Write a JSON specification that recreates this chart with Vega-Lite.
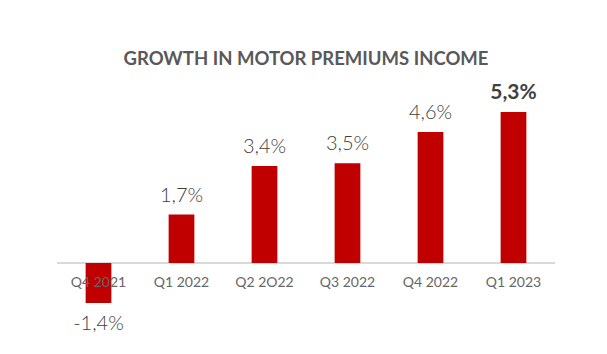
{
  "$schema": "https://vega.github.io/schema/vega-lite/v6.json",
  "width": 498,
  "height": 274,
  "autosize": {"type": "none"},
  "padding": {"left": 57, "right": 52, "top": 80, "bottom": 0},
  "background": "white",
  "title": {
    "text": "GROWTH IN MOTOR PREMIUMS INCOME",
    "font": "Lato",
    "fontSize": 18.5,
    "fontWeight": "bold",
    "color": "#595959",
    "anchor": "middle",
    "baseline": "alphabetic",
    "offset": -3
  },
  "config": {"view": {"stroke": null}},
  "data": {
    "values": [
      {"quarter": "Q4 2021", "value": -1.4, "label": "-1,4%"},
      {"quarter": "Q1 2022", "value": 1.7, "label": "1,7%"},
      {"quarter": "Q2 2O22", "value": 3.4, "label": "3,4%"},
      {"quarter": "Q3 2022", "value": 3.5, "label": "3,5%"},
      {"quarter": "Q4 2022", "value": 4.6, "label": "4,6%"},
      {"quarter": "Q1 2023", "value": 5.3, "label": "5,3%"}
    ]
  },
  "encoding": {
    "x": {
      "field": "quarter",
      "type": "nominal",
      "sort": null,
      "axis": null,
      "scale": {"paddingInner": 0.69, "paddingOuter": 0.345}
    }
  },
  "layer": [
    {
      "mark": {"type": "rule", "color": "#D9D9D9", "strokeWidth": 1.5},
      "encoding": {
        "x": {"value": 0},
        "x2": {"value": 498},
        "y": {"datum": 0, "type": "quantitative", "scale": {"domain": [-3.193, 6.421], "nice": false, "zero": false}, "axis": null}
      }
    },
    {
      "mark": {"type": "bar", "color": "#C00000"},
      "encoding": {
        "y": {"field": "value", "type": "quantitative"},
        "y2": {"datum": 0}
      }
    },
    {
      "transform": [{"filter": "datum.value > 0 && datum.value < 5"}],
      "mark": {"type": "text", "font": "Lato", "fontSize": 20, "fontWeight": 300, "color": "#404040", "baseline": "alphabetic", "dy": -13},
      "encoding": {
        "y": {"field": "value", "type": "quantitative"},
        "text": {"field": "label"}
      }
    },
    {
      "transform": [{"filter": "datum.value >= 5"}],
      "mark": {"type": "text", "font": "Lato", "fontSize": 21, "fontWeight": "bold", "color": "#404040", "baseline": "alphabetic", "dy": -13},
      "encoding": {
        "y": {"field": "value", "type": "quantitative"},
        "text": {"field": "label"}
      }
    },
    {
      "transform": [{"filter": "datum.value < 0"}],
      "mark": {"type": "text", "font": "Lato", "fontSize": 20, "fontWeight": 300, "color": "#404040", "baseline": "alphabetic", "dy": 27},
      "encoding": {
        "y": {"field": "value", "type": "quantitative"},
        "text": {"field": "label"}
      }
    },
    {
      "mark": {"type": "text", "font": "Lato", "fontSize": 14, "color": "#666666", "baseline": "middle", "dy": 20},
      "encoding": {
        "y": {"datum": 0, "type": "quantitative"},
        "text": {"field": "quarter"}
      }
    }
  ]
}
